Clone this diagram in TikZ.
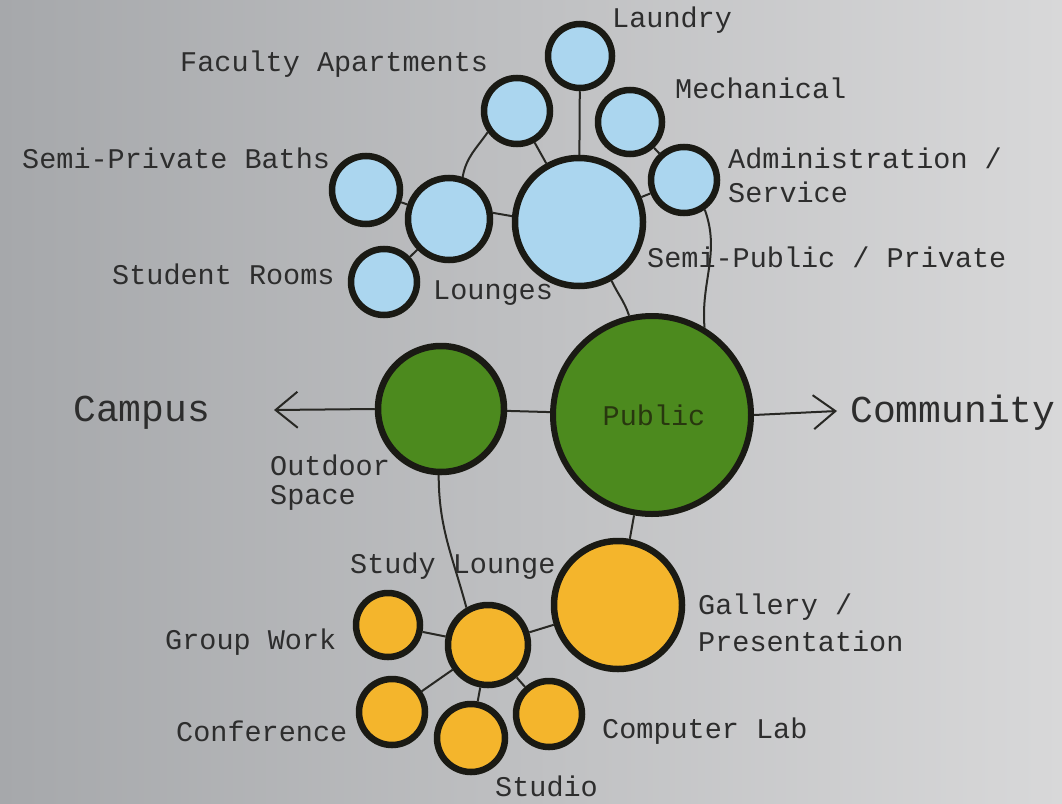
\documentclass[tikz,border=0pt]{standalone}
\usepackage{fontspec}
\setmainfont{Liberation Mono}
\usetikzlibrary{arrows.meta}
\pgfdeclarelayer{bg}
\pgfdeclarelayer{lines}
\pgfsetlayers{bg,lines,main}
\definecolor{bgL}{RGB}{166,168,171}
\definecolor{bgR}{RGB}{216,216,217}
\definecolor{blueF}{RGB}{171,214,239}
\definecolor{greenF}{RGB}{76,138,30}
\definecolor{orangeF}{RGB}{244,181,44}
\definecolor{ink}{RGB}{26,26,20}
\definecolor{txt}{RGB}{45,45,45}
\definecolor{linec}{RGB}{40,40,36}
\tikzset{
  bub/.style={circle, draw=ink, line width=6.5pt, inner sep=0pt, minimum size=#1},
  blue/.style={bub=#1, fill=blueF},
  green/.style={bub=#1, fill=greenF},
  orange/.style={bub=#1, fill=orangeF},
  lab/.style={anchor=west, inner sep=0pt, text=txt, font=\fontsize{28.5}{34}\selectfont},
  big/.style={anchor=west, inner sep=0pt, text=txt, font=\fontsize{38}{44}\selectfont},
  con/.style={draw=linec, line width=2pt},
}
\begin{document}
\begin{tikzpicture}[x=1pt,y=-1pt]
\useasboundingbox (0,0) rectangle (1062,803);
\begin{pgfonlayer}{bg}
\shade[left color=bgL, right color=bgR] (0,0) rectangle (1062,803);
\end{pgfonlayer}
% blue
\node[blue=64] (laundry) at (580,56) {};
\node[blue=66] (faculty) at (517,111) {};
\node[blue=64] (mech) at (630,122) {};
\node[blue=66] (admin) at (684,180) {};
\node[blue=128] (main) at (579,222) {};
\node[blue=82] (lounges) at (449,219) {};
\node[blue=68] (baths) at (366,190) {};
\node[blue=66] (student) at (384,282) {};
% green
\node[green=126] (outdoor) at (441,409) {};
\node[green=198, line width=6pt] (pub) at (652,415) {};
% orange
\node[orange=128] (gallery) at (618,605) {};
\node[orange=80] (study) at (488,645) {};
\node[orange=64] (group) at (388,625) {};
\node[orange=66] (conf) at (392,712) {};
\node[orange=68] (studio) at (471,738) {};
\node[orange=66] (comp) at (549,714) {};
% coordinates for arrows
\coordinate (campusend) at (274,410);
\coordinate (commend) at (837,411);
% labels
\node[lab] (tLaundry) at (612,20) {Laundry};
\node[lab] (tFaculty) at (180,64) {Faculty Apartments};
\node[lab] (tMech) at (675,88) {Mechanical};
\node[lab] (tAdmin) at (728,158) {Administration /};
\node[lab] (tService) at (728,192) {Service};
\node[lab] (tBaths) at (22,158) {Semi-Private Baths};
\node[lab] (tSemi) at (647,257) {Semi-Public / Private};
\node[lab] (tStudent) at (112,274) {Student Rooms};
\node[lab] (tLounges) at (433,293) {Lounges};
\node[big] (tCampus) at (73,413) {Campus};
\node[big] (tComm) at (850,413) {Community};
\node[anchor=center, inner sep=0pt, text={rgb,255:red,40;green,55;blue,15}, font=\fontsize{28.5}{34}\selectfont] (tPublic) at (654,415) {Public};
\node[lab] (tOutdoor) at (270,465) {Outdoor};
\node[lab] (tSpace) at (270,498) {Space};
\node[lab] (tStudy) at (350,566) {Study Lounge};
\node[lab] (tGallery) at (698,607) {Gallery /};
\node[lab] (tPres) at (698,641) {Presentation};
\node[lab] (tGroup) at (165,642) {Group Work};
\node[lab] (tConf) at (176,731) {Conference};
\node[lab] (tComp) at (602,731) {Computer Lab};
\node[lab] (tStudio) at (495,786) {Studio};
% connectors
\begin{pgfonlayer}{lines}
\draw[con] (laundry) -- (main);
\draw[con] (faculty) -- (main);
\draw[con] (mech) -- (admin);
\draw[con] (admin) -- (main);
\draw[con] (lounges.8) -- (main.175);
\draw[con] (lounges) -- (baths);
\draw[con] (lounges) -- (student);
\draw[con] (lounges.72) to[out=80,in=-125] (faculty.216);
\draw[con] (main.-61) to[out=-65,in=108] (pub.103);
\draw[con] (admin.-55) to[out=-70,in=95] (pub.59);
\draw[con] (outdoor.center) -- (pub.center);
\draw[con] (outdoor.-92) to[out=-90,in=105] (study.120);
\draw[con] (pub) -- (gallery);
\draw[con] (study) -- (gallery);
\draw[con] (group) -- (study);
\draw[con] (study) -- (conf);
\draw[con] (study) -- (studio);
\draw[con] (study) -- (comp);
\end{pgfonlayer}
\draw[con, -{Straight Barb[length=22pt,width=36pt]}] (outdoor.west) -- (campusend);
\draw[con, -{Straight Barb[length=22pt,width=34pt]}] (pub.east) -- (commend);
\end{tikzpicture}
\end{document}
